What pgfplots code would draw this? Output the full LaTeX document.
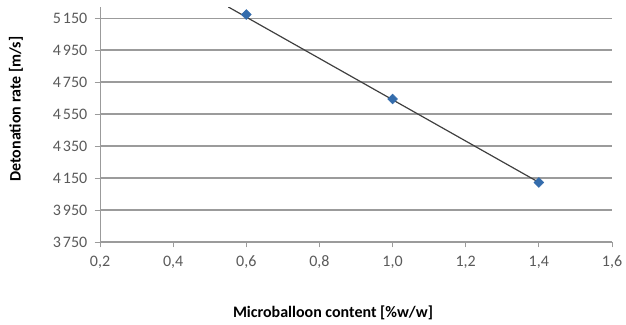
\documentclass[border=0pt]{standalone}
\usepackage{pgfplots}
\pgfplotsset{compat=1.18}
\usepackage{fontspec}
\setmainfont{Carlito}
\definecolor{gridgrey}{RGB}{155,155,155}
\definecolor{ticktext}{RGB}{90,90,90}
\definecolor{markblue}{RGB}{52,108,172}
\begin{document}
\begin{tikzpicture}
\useasboundingbox (-75pt,-62.25pt) rectangle (394.5pt,181.5pt);
\begin{axis}[
  at={(0,0)}, anchor=south west,
  scale only axis,
  width=384pt, height=176.25pt,
  xmin=0.2, xmax=1.6,
  ymin=3750, ymax=5219,
  xtick={0.2,0.4,...,1.6},
  ytick={3750,3950,4150,4350,4550,4750,4950,5150},
  axis x line*=bottom,
  axis y line*=left,
  axis line style={gridgrey, line width=0.6pt, -},
  tick align=outside,
  major tick length=4pt,
  tick style={gridgrey, line width=0.6pt},
  ymajorgrids,
  grid style={gridgrey, line width=0.8pt},
  tick label style={font=\fontsize{12}{14}\selectfont, text=ticktext},
  /pgf/number format/assume math mode=true,
  x tick label style={/pgf/number format/use comma, /pgf/number format/fixed,
    /pgf/number format/fixed zerofill, /pgf/number format/precision=1, yshift=-3pt},
  y tick label style={/pgf/number format/1000 sep={\kern1.5pt}, xshift=-2pt},
  xlabel={\textbf{Microballoon content [\%w/w]}},
  ylabel={\textbf{Detonation rate [m/s]}},
  label style={font=\fontsize{12}{14}\selectfont},
  xlabel style={at={(axis description cs:0.455,0)}, anchor=center, yshift=-53.25pt},
  ylabel style={at={(axis description cs:-0.164,0.566)}, anchor=center},
  clip=true,
]
% linear trend line
\addplot[black!75, line width=0.9pt, no marks] coordinates {(0.551,5219) (1.403,4119)};
% measured values
\addplot[only marks, mark=square*, mark size=2.6pt, mark options={rotate=45}, color=markblue] coordinates {
  (0.6,5172) (1.0,4644) (1.4,4122)
};
\end{axis}
\end{tikzpicture}
\end{document}
